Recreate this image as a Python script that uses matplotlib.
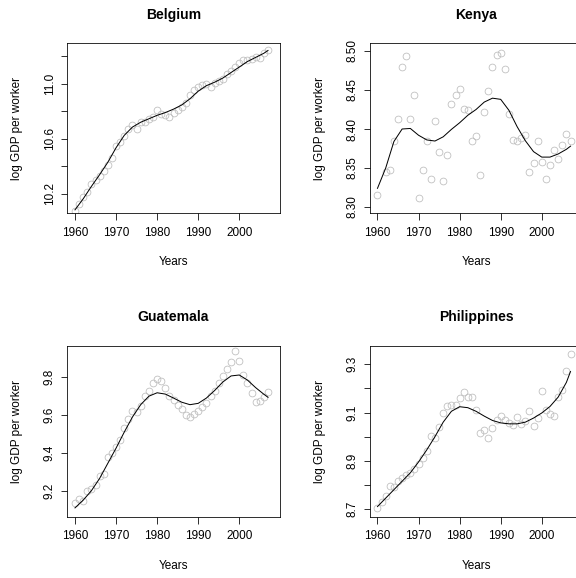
import numpy as np
import matplotlib
matplotlib.use('Agg')
import matplotlib.pyplot as plt

plt.rcParams['font.family'] = ['Liberation Sans', 'DejaVu Sans']

years = np.arange(1960, 2008)

# observed log GDP per worker, 1960-2007
belgium = [10.078, 10.130, 10.176, 10.215, 10.273, 10.300, 10.330, 10.364, 10.408, 10.460,
           10.547, 10.574, 10.620, 10.674, 10.700, 10.672, 10.723, 10.723, 10.745, 10.757,
           10.807, 10.780, 10.772, 10.757, 10.790, 10.810, 10.830, 10.860, 10.917, 10.950,
           10.978, 10.988, 10.995, 10.973, 11.002, 11.020, 11.036, 11.066, 11.088, 11.120,
           11.147, 11.174, 11.174, 11.180, 11.190, 11.183, 11.225, 11.242]
kenya = [8.316, np.nan, 8.345, 8.347, 8.385, 8.413, 8.480, 8.493, 8.413, 8.444,
         8.312, 8.347, 8.384, 8.336, 8.410, 8.370, 8.334, 8.367, 8.432, 8.444,
         8.451, 8.425, 8.424, 8.384, 8.391, 8.341, 8.422, 8.449, 8.479, 8.495,
         8.498, 8.477, 8.419, 8.386, 8.385, 8.388, 8.392, 8.345, 8.356, 8.384,
         8.358, 8.336, 8.354, 8.373, 8.362, 8.380, 8.393, 8.384]
guatemala = [9.137, 9.156, 9.147, 9.200, 9.207, 9.232, 9.276, 9.288, 9.376, 9.402,
             9.432, 9.467, 9.532, 9.578, 9.620, 9.617, 9.649, 9.701, 9.728, 9.768,
             9.791, 9.782, 9.744, 9.703, 9.678, 9.654, 9.631, 9.601, 9.592, 9.605,
             9.624, 9.643, 9.666, 9.701, 9.729, 9.768, 9.807, 9.842, 9.883, 9.941,
             9.886, 9.814, 9.768, 9.715, 9.670, 9.677, 9.698, 9.722]
philippines = [8.706, 8.728, 8.752, 8.795, 8.792, 8.816, 8.829, 8.839, 8.850, 8.866,
               8.887, 8.911, 8.941, 9.004, 8.996, 9.040, 9.100, 9.125, 9.133, 9.131,
               9.161, 9.184, 9.164, 9.166, 9.110, 9.015, 9.028, 8.996, 9.036, 9.070,
               9.087, 9.070, 9.056, 9.048, 9.081, 9.051, 9.065, 9.106, 9.043, 9.076,
               9.188, 9.109, 9.095, 9.084, 9.165, 9.194, 9.274, 9.343]

# smoothed trend
fit_years = [1960, 1962, 1964, 1966, 1968, 1970, 1972, 1974, 1976, 1978, 1980, 1982,
             1984, 1986, 1988, 1990, 1992, 1994, 1996, 1998, 2000, 2002, 2004, 2006, 2007]
belgium_fit = [10.085, 10.165, 10.255, 10.340, 10.430, 10.535, 10.625, 10.685, 10.720,
               10.745, 10.770, 10.790, 10.815, 10.845, 10.890, 10.945, 10.985, 11.010,
               11.040, 11.080, 11.120, 11.160, 11.190, 11.220, 11.240]
kenya_fit = [8.324, 8.350, 8.384, 8.400, 8.4007, 8.392, 8.386, 8.3846, 8.390, 8.3995,
             8.408, 8.4176, 8.425, 8.4345, 8.4395, 8.438, 8.424, 8.403, 8.385, 8.371,
             8.364, 8.364, 8.368, 8.374, 8.378]
guatemala_fit = [9.109, 9.150, 9.200, 9.265, 9.345, 9.425, 9.510, 9.590, 9.655, 9.700,
                 9.718, 9.711, 9.690, 9.668, 9.655, 9.662, 9.690, 9.730, 9.775, 9.807,
                 9.812, 9.785, 9.745, 9.710, 9.694]
philippines_fit = [8.710, 8.745, 8.780, 8.815, 8.850, 8.895, 8.945, 9.000, 9.060, 9.105,
                   9.124, 9.120, 9.105, 9.085, 9.067, 9.057, 9.053, 9.053, 9.060, 9.077,
                   9.098, 9.125, 9.164, 9.225, 9.270]

W, H = 576, 578
fig = plt.figure(figsize=(W / 72, H / 72), dpi=72)


def add_panel(x0, y0, x1, y1):
    # pixel box -> figure fraction
    return fig.add_axes([x0 / W, 1 - y1 / H, (x1 - x0) / W, (y1 - y0) / H])


panels = [
    ('Belgium', belgium, belgium_fit, (67.1, 43.3, 280.0, 213.3), (10.06, 11.292),
     [10.2, 10.4, 10.6, 10.8, 11.0, 11.2], ['10.2', '', '10.6', '', '11.0', '']),
    ('Kenya', kenya, kenya_fit, (369.6, 43.3, 582.5, 213.3), (8.292, 8.5098),
     [8.30, 8.35, 8.40, 8.45, 8.50], ['8.30', '8.35', '8.40', '8.45', '8.50']),
    ('Guatemala', guatemala, guatemala_fit, (67.1, 345.7, 280.0, 516.7), (9.0624, 9.967),
     [9.2, 9.4, 9.6, 9.8], ['9.2', '9.4', '9.6', '9.8']),
    ('Philippines', philippines, philippines_fit, (369.6, 345.7, 582.5, 516.7), (8.668, 9.377),
     [8.7, 8.8, 8.9, 9.0, 9.1, 9.2, 9.3], ['8.7', '', '8.9', '', '9.1', '', '9.3']),
]

fs = 11.8
for title, obs, fit, box, ylim, yt, ytl in panels:
    ax = add_panel(*box)
    ax.plot(years, obs, 'o', ms=6.8, mfc='none', mec='#BEBEBE', mew=0.8)
    ax.plot(fit_years, fit, '-', color='black', lw=1.0)
    ax.set_xlim(1958.08, 2009.92)
    ax.set_ylim(*ylim)
    ax.set_xticks([1960, 1970, 1980, 1990, 2000])
    ax.set_yticks(yt)
    ax.set_yticklabels(ytl, rotation=90, va='center')
    ax.tick_params(direction='out', length=6.5, width=0.8, labelsize=fs, colors='black')
    ax.tick_params(axis='x', pad=7)
    ax.tick_params(axis='y', pad=5)
    for s in ax.spines.values():
        s.set_linewidth(0.8)
    ax.set_title(title, fontsize=14, fontweight='bold', pad=24.5)
    ax.set_xlabel('Years', fontsize=fs)
    ax.set_ylabel('log GDP per worker', fontsize=fs)
    ax.xaxis.set_label_coords(0.5, -0.252)
    ax.yaxis.set_label_coords(-0.205, 0.5)

fig.savefig('out.png', dpi=72)
